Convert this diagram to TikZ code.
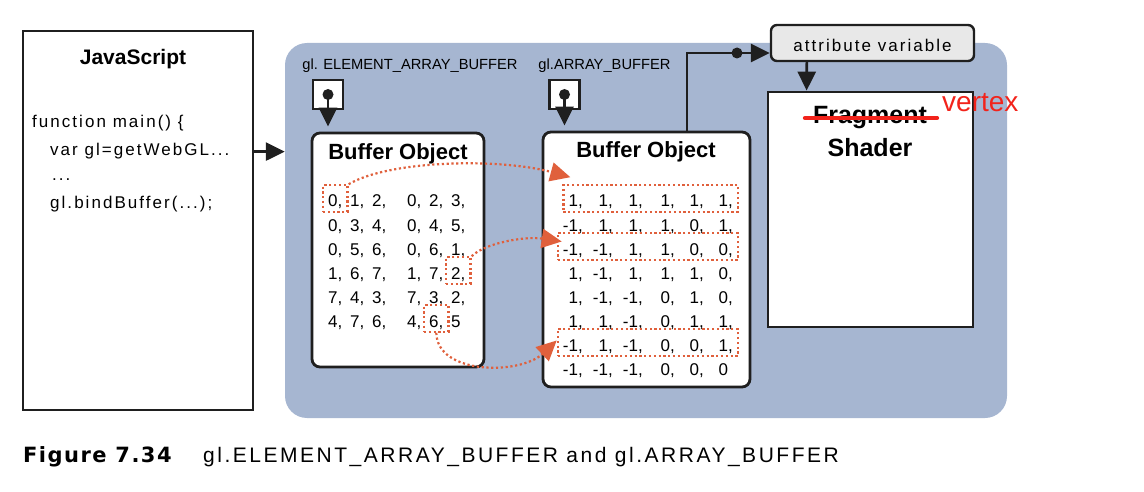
\documentclass[tikz,border=0pt]{standalone}
\usepackage{fontspec}
\setmainfont{Liberation Sans}
\newfontfamily\spaced[LetterSpace=12]{Liberation Sans}
\newfontfamily\capfont[LetterSpace=7]{DejaVu Sans}
\usetikzlibrary{arrows.meta,fit}
\definecolor{bgblue}{HTML}{A6B6D1}
\definecolor{linkred}{HTML}{E0603C}
\definecolor{markred}{HTML}{F2231B}
\begin{document}
\begin{tikzpicture}[x=1pt,y=-1pt,
  box/.style={draw=black!88, line width=2.8pt, fill=white, inner sep=0pt},
  bufbox/.style={box, rounded corners=8pt},
  lbl/.style={inner sep=0pt, anchor=base},
  bufftitle/.style={lbl, font=\fontsize{22}{24}\selectfont\bfseries},
  num/.style={font=\fontsize{17}{20}\selectfont, inner sep=0pt, text height=12pt, text depth=3pt},
  code/.style={lbl, anchor=base west, font=\spaced\fontsize{17}{20}\selectfont},
  blk/.style={draw=black!88, line width=2.6pt, -{Triangle[length=19pt,width=18pt]}},
  link/.style={draw=linkred, line width=2.2pt, dash pattern=on 2.2pt off 2.6pt, -{Triangle[length=20pt,width=19pt]}},
  hl/.style={draw=linkred, line width=2.2pt, dash pattern=on 2.2pt off 2.6pt, inner xsep=5pt, inner ysep=5.5pt, yshift=4pt},
  plug/.style={draw=black!88, line width=2.5pt, fill=white, minimum width=30pt, minimum height=29pt, inner sep=0pt}]
\useasboundingbox (0,0) rectangle (1144,492);
% vung WebGL
\node[fill=bgblue, rounded corners=22pt, minimum width=722pt, minimum height=375pt] (glarea) at (646,230.5) {};
% JavaScript
\node[box, minimum width=230pt, minimum height=379pt] (jsbox) at (138,220.5) {};
\node[lbl, font=\fontsize{21}{24}\selectfont\bfseries] (jstitle) at (133,65) {JavaScript};
\node[code] (ln1) at (32,128) {function main() \{};
\node[code] (ln2) at (50,156) {var gl=getWebGL...};
\node[code] (ln3) at (52,181) {...};
\node[code] (ln4) at (50,208) {gl.bindBuffer(...);};
\draw[blk] (ln2 -| jsbox.east) -- (ln2 -| glarea.west);
% hai buffer object
\node[bufbox, minimum width=172pt, minimum height=234pt] (elembuf) at (398,250) {};
\node[bufbox, minimum width=207pt, minimum height=255pt] (arraybuf) at (646.5,259.5) {};
\node[bufftitle] (elemtitle) at (398,160) {Buffer Object};
\node[bufftitle] (arraytitle) at (646,158) {Buffer Object};
\node[lbl, font=\fontsize{14.7}{16}\selectfont] (elemlbl) at (410,70) {gl. ELEMENT\_ARRAY\_BUFFER};
\node[lbl, font=\fontsize{14.7}{16}\selectfont] (arraylbl) at (604.5,70) {gl.ARRAY\_BUFFER};
\foreach \p/\x in {elem/328, array/564.5}{
  \node[plug] (\p plug) at (\x,94.5) {};
  \fill[black!88] (\p plug.center) circle (5.5pt);
  \draw[blk, shorten >=5pt] (\p plug.center) -- (\p plug.center |- \p buf.north);
}
% chi so
\foreach \ua/\ub/\uc/\ud/\ue/\uf [count=\i] in {0/1/2/0/2/3, 0/3/4/0/4/5, 0/5/6/0/6/1, 1/6/7/1/7/2, 7/4/3/7/3/2, 4/7/6/4/6/5}
  \foreach \v/\x [count=\j] in {\ua/328,\ub/350,\uc/372,\ud/407,\ue/429,\uf/451}
    \node[num, anchor=base west] (L\i-\j) at (\x,{207+24*(\i-1)}) {\v\ifnum\i\j=66 \else,\fi};
% dinh
\foreach \ua/\ub/\uc/\ud/\ue/\uf [count=\i] in {1/1/1/1/1/1, -1/1/1/1/0/1, -1/-1/1/1/0/0, 1/-1/1/1/1/0, 1/-1/-1/0/1/0, 1/1/-1/0/1/1, -1/1/-1/0/0/1, -1/-1/-1/0/0/0}
  \foreach \v/\x [count=\j] in {\ua/583,\ub/613,\uc/643,\ud/675,\ue/704,\uf/733}
    \node[num, anchor=base east] (R\i-\j) at (\x,{207+24*(\i-1)}) {\v\ifnum\i\j=86 \phantom{,}\else,\fi};
\node[hl, fit=(L1-1)] (L11hl) {};
\node[hl, fit=(L4-6)] (L46hl) {};
\node[hl, fit=(L6-5)] (L65hl) {};
\foreach \r in {1,3,7}
  \node[hl, fit=(R\r-1)(R\r-6)] (row\r) {};
\draw[link] (L11hl.north east) .. controls (390,160) and (500,158) .. ([shift={(8,-7)}]row1.north west);
\draw[link] (L46hl.north east) .. controls (485,243) and (525,236) .. ([shift={(5,-5)}]row3.west);
\draw[link] (L65hl.south) .. controls (437,375) and (520,375) .. ([shift={(0,-2)}]row7.west);
% shader
\node[box, rounded corners=6pt, fill=black!9, line width=2.4pt, minimum width=203pt, minimum height=36pt, text height=17pt, text depth=0pt, font=\spaced\fontsize{17}{20}\selectfont] (attr) at (872.5,43) {attribute variable};
\node[box, minimum width=205pt, minimum height=235pt] (shader) at (870.5,209.5) {};
\node[lbl, font=\fontsize{25}{28}\selectfont\bfseries] (frag) at (870,124) {Fragment};
\node[lbl, font=\fontsize{25}{28}\selectfont\bfseries] (shadername) at (870,157) {Shader};
\draw[markred, line width=4pt, line cap=round] ([shift={(-8,-6)}]frag.base west) -- ([shift={(10,-6)}]frag.base east);
\node[lbl, anchor=base west, text=markred, font=\fontsize{28}{30}\selectfont] (vtx) at (942,112) {vertex};
\coordinate (bend) at (687,53);
\coordinate (joint) at (737,53);
\draw[blk] (arraybuf.north -| bend) -- (bend) -- (bend -| attr.west);
\fill[black!88] (joint) circle (5.5pt);
\draw[blk] ([xshift=37pt]attr.south west) -- ([xshift=40pt]shader.north west);
% chu thich
\node[lbl, anchor=base west, font=\capfont\bfseries\fontsize{21}{24}\selectfont] (figlbl) at (23,462) {Figure 7.34};
\node[lbl, anchor=base west, font=\spaced\fontsize{21}{24}\selectfont] (figtitle) at (203,462) {gl.ELEMENT\_ARRAY\_BUFFER and gl.ARRAY\_BUFFER};
\end{tikzpicture}
\end{document}
